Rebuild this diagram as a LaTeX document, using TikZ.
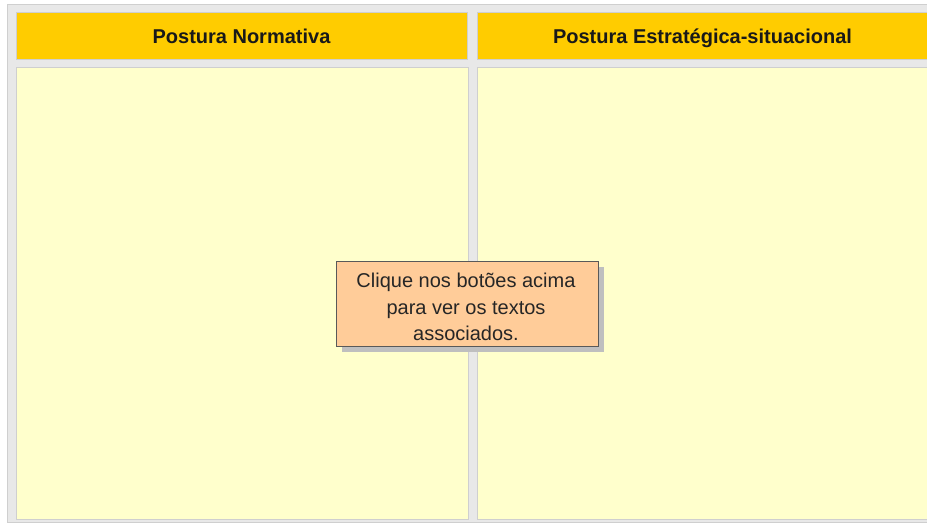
\documentclass[tikz,border=0pt]{standalone}
\usepackage{fontspec}
\setmainfont{Liberation Sans}
\usepackage{xcolor}
\usetikzlibrary{positioning,shadows}

\definecolor{panelgray}{HTML}{E8E8E8}
\definecolor{edgegray}{HTML}{CFCFCF}
\definecolor{headgold}{HTML}{FFCC00}
\definecolor{paleyellow}{HTML}{FFFFCC}
\definecolor{peach}{HTML}{FFCC99}

\tikzset{
  panel/.style={fill=panelgray,draw=edgegray,line width=1pt},
  header/.style={fill=headgold,draw=edgegray,line width=1pt,minimum width=451,minimum height=47,
    inner sep=0pt,text height=15pt,text depth=1pt,font=\fontsize{20}{24}\selectfont\bfseries,text=black!90},
  bodybox/.style={fill=paleyellow,draw=edgegray,line width=1pt,minimum width=452,minimum height=451,inner sep=0pt},
  note/.style={fill=peach,draw=black!65,line width=0.8pt,minimum width=262,minimum height=85,inner sep=0pt,
    align=center,font=\fontsize{20}{26.5}\selectfont,text=black!85,
    drop shadow={shadow xshift=6pt,shadow yshift=-6pt,fill=black!25,opacity=1}}
}

\begin{document}
\begin{tikzpicture}[x=1pt,y=-1pt]
		\useasboundingbox (0,0) rectangle (927,524);
		\clip (0,0) rectangle (927,524);
		\fill[white] (0,0) rectangle (927,524);
		\draw[panel] (7,5) rectangle (945,522);
		% column titles
		\node[header] (hnorm) at (241.5,36.5) {Postura Normativa};
		\node[header] (hestr) at (702.5,36.5) {Postura Estratégica-situacional};
		% text areas
		\node[bodybox] (bnorm) at (242,293.5) {};
		\node[bodybox] (bestr) at (703,293.5) {};
		\node[note] (aviso) at (467,303.5) {};
		\node[align=center,font=\fontsize{20}{26.5}\selectfont,text=black!85,inner sep=0pt] (avisotxt)
			at (466,307) {Clique nos botões acima\\para ver os textos\\associados.};
	\end{tikzpicture}
\end{document}
